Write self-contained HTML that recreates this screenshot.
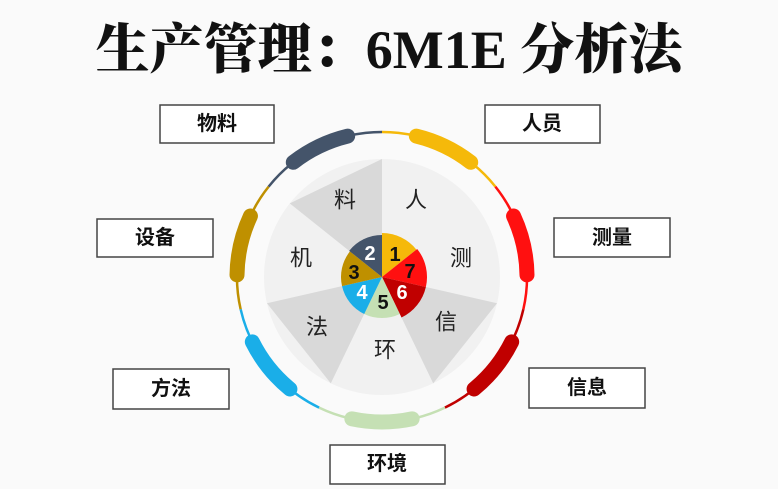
<!DOCTYPE html>
<html><head><meta charset="utf-8"><style>
html,body{margin:0;padding:0;background:#fafafa;}
svg{display:block;}
.box{fill:#fff;stroke:#444;stroke-width:1.5;}
.bl{font-family:"Liberation Sans","Noto Sans CJK SC",sans-serif;font-weight:bold;font-size:20px;fill:#111;text-anchor:middle;dominant-baseline:central;}
.sl{font-family:"Liberation Sans","Noto Sans CJK SC",sans-serif;font-size:22px;fill:#222;text-anchor:middle;dominant-baseline:central;}
.nl{font-family:"Liberation Sans","Noto Sans CJK SC",sans-serif;font-weight:bold;font-size:20px;text-anchor:middle;dominant-baseline:central;}
</style></head><body>
<svg id="s" width="778" height="489" viewBox="0 0 778 489" xmlns="http://www.w3.org/2000/svg">
<rect width="778" height="489" fill="#fafafa"/>
<text x="389" y="50" text-anchor="middle" dominant-baseline="central" style="font-family:'Liberation Serif','Noto Serif CJK SC',serif;font-weight:900;font-size:54px;fill:#111;">生产管理：6M1E 分析法</text>
<g id="shapes"></g>
<g>
<rect class="box" x="160" y="105" width="114" height="38"/><text class="bl" x="217" y="124">物料</text>
<rect class="box" x="485" y="105" width="115" height="38"/><text class="bl" x="542" y="124">人员</text>
<rect class="box" x="97" y="219" width="116" height="38"/><text class="bl" x="155" y="238">设备</text>
<rect class="box" x="554" y="218" width="116" height="39"/><text class="bl" x="612" y="238">测量</text>
<rect class="box" x="113" y="369" width="116" height="40"/><text class="bl" x="171" y="389">方法</text>
<rect class="box" x="529" y="368" width="116" height="40"/><text class="bl" x="587" y="388">信息</text>
<rect class="box" x="330" y="445" width="115" height="39"/><text class="bl" x="387" y="464">环境</text>
</g>
<g>
<text class="sl" x="416" y="200">人</text>
<text class="sl" x="461" y="258">测</text>
<text class="sl" x="446" y="322">信</text>
<text class="sl" x="385" y="350">环</text>
<text class="sl" x="317" y="327">法</text>
<text class="sl" x="301" y="258">机</text>
<text class="sl" x="345" y="200">料</text>
</g>
<g>
<text class="nl" x="395" y="255" fill="#111">1</text>
<text class="nl" x="410" y="272" fill="#111">7</text>
<text class="nl" x="402" y="293" fill="#fff">6</text>
<text class="nl" x="383" y="303" fill="#111">5</text>
<text class="nl" x="362" y="293" fill="#fff">4</text>
<text class="nl" x="354" y="273" fill="#111">3</text>
<text class="nl" x="370" y="254" fill="#fff">2</text>
</g>
</svg>
<script>
(function(){
var cx=382,cy=277,g=document.getElementById('shapes'),ns='http://www.w3.org/2000/svg';
function P(r,a){a=a*Math.PI/180;return [cx+r*Math.sin(a),cy-r*Math.cos(a)];}
function el(t,at){var e=document.createElementNS(ns,t);for(var k in at)e.setAttribute(k,at[k]);g.appendChild(e);return e;}
var st=360/7;
var cols=['#f5b90a','#ff1010','#c00000','#c5e0b4','#1aaee8','#bf9000','#44546a'];
var dark=[false,false,true,false,true,false,true];
el('circle',{cx:cx,cy:cy,r:118,fill:'#f1f1f1'});
for(var k=0;k<7;k++){
 if(!dark[k])continue;
 var a=P(118,k*st),b=P(118,(k+1)*st);
 el('path',{d:'M'+cx+','+cy+'L'+a+'L'+b+'Z',fill:'#d9d9d9'});
}
var ir=[44,45,45,41,41,41,42];
for(var k=0;k<7;k++){
 var r=ir[k],a=P(r,k*st),b=P(r,(k+1)*st);
 el('path',{d:'M'+cx+','+cy+'L'+a+'A'+r+','+r+' 0 0 1 '+b+'Z',fill:cols[k]});
 var c=P(145,k*st),d=P(145,(k+1)*st);
 el('path',{d:'M'+c+'A145,145 0 0 1 '+d,fill:'none',stroke:cols[k],'stroke-width':2.5});
 var m=(k+0.5)*st,e=P(145,m-12),f=P(145,m+12);
 el('path',{d:'M'+e+'A145,145 0 0 1 '+f,fill:'none',stroke:cols[k],'stroke-width':15,'stroke-linecap':'round'});
}
})();
</script>
</body></html>
